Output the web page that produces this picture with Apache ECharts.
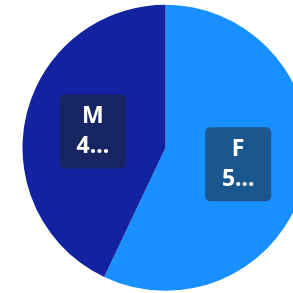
<!DOCTYPE html>
<html>
<head>
<meta charset="utf-8">
<script src="https://cdn.jsdelivr.net/npm/echarts@6/dist/echarts.min.js"></script>
<style>
  html, body { margin: 0; padding: 0; background: #ffffff; }
  #chart { width: 293px; height: 293px; }
</style>
</head>
<body>
<div id="chart"></div>
<script>
var categories = ['F', 'M'];
var values = [57.06, 42.94];
var colors = ['#1890ff', '#1222a0'];

window.onload = function () {
    var chart = echarts.init(document.getElementById('chart'));

    var data = categories.map(function (name, i) {
        return { name: name, value: values[i], itemStyle: { color: colors[i] } };
    });

    chart.setOption({
        animation: false,
        series: [{
            type: 'pie',
            center: [165.5, 147.8],
            radius: 143,
            startAngle: 90,
            clockwise: true,
            label: {
                show: true,
                position: 'inside',
                formatter: '{b}\n{d}%',
                color: '#ffffff',
                fontWeight: 'bold',
                fontSize: 23,
                fontFamily: 'Noto Sans',
                lineHeight: 30,
                width: 40,
                overflow: 'truncate',
                align: 'center',
                backgroundColor: 'rgba(30,40,50,0.55)',
                padding: [7, 13],
                borderRadius: 5
            },
            labelLine: { show: false },
            data: data
        }]
    });
};
</script>
</body>
</html>
